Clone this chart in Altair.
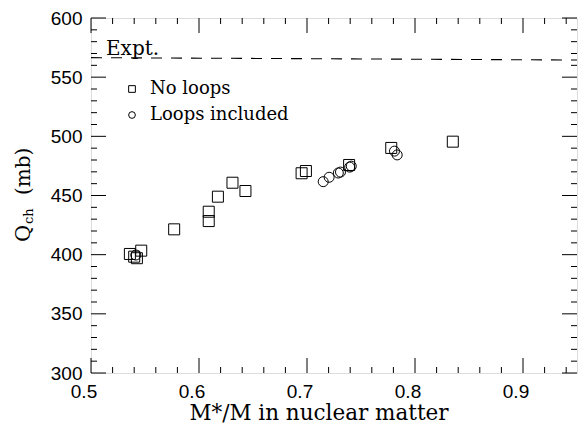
import altair as alt
import pandas as pd

# Q_ch versus effective mass M*/M in nuclear matter
no_loops_x = [0.536, 0.5465, 0.540, 0.5425, 0.577, 0.609, 0.609, 0.6175, 0.631,
              0.643, 0.695, 0.699, 0.739, 0.778, 0.835]
no_loops_y = [400.6, 403.4, 398.3, 397.0, 421.4, 436.3, 428.4, 449.0, 460.8,
              453.8, 468.8, 470.7, 475.8, 490.2, 495.5]

loops_x = [0.5415, 0.715, 0.7205, 0.729, 0.731, 0.7395, 0.741, 0.781, 0.7835]
loops_y = [399.7, 461.7, 465.4, 469.0, 469.8, 474.0, 474.8, 487.5, 484.3]

# experimental value (dashed line)
expt_x = [0.5, 0.95]
expt_y = [566.5, 564.5]

# axis ticks and labels
x_major = [0.5, 0.6, 0.7, 0.8, 0.9]
x_labels = ["0.5", "0.6", "0.7", "0.8", "0.9"]
x_minor = [0.52, 0.54, 0.56, 0.58, 0.62, 0.64, 0.66, 0.68, 0.72, 0.74, 0.76,
           0.78, 0.82, 0.84, 0.86, 0.88, 0.92, 0.94]
y_major = [300, 350, 400, 450, 500, 550, 600]
y_minor = [v for v in range(310, 600, 10) if v % 50 != 0]

W, H = 486, 355
MAJ, MIN = 15, 6
SERIF = "DejaVu Serif"
SANS = "Liberation Sans"

series_order = ["No loops", "Loops included"]

pts = pd.DataFrame(
    {"m": no_loops_x + loops_x,
     "q": no_loops_y + loops_y,
     "series": ["No loops"] * len(no_loops_x) + ["Loops included"] * len(loops_x)}
)
expt = pd.DataFrame({"m": expt_x, "q": expt_y})

xscale = alt.Scale(domain=[0.5, 0.95], nice=False, zero=False)
yscale = alt.Scale(domain=[300, 600], nice=False, zero=False)

y_axis = alt.Axis(values=y_major, format="d", ticks=False, domain=False, grid=False,
                  labelFont=SANS, labelFontSize=19, labelColor="black",
                  labelFlush=False, labelPadding=9, title=None)

shape_scale = alt.Scale(domain=series_order, range=["square", "circle"])
legend = alt.Legend(
    orient="none", legendX=32, legendY=62, title=None, padding=0,
    labelFont=SERIF, labelFontSize=18, labelColor="black", labelOffset=9,
    symbolSize=45, symbolStrokeColor="black", symbolFillColor="transparent",
    symbolStrokeWidth=1, rowPadding=8,
)

base = alt.Chart(pts)

squares = base.transform_filter(alt.datum.series == "No loops").mark_point(
    size=121, filled=False, stroke="black", strokeWidth=1, opacity=1
).encode(
    x=alt.X("m:Q", scale=xscale, axis=None),
    y=alt.Y("q:Q", scale=yscale, axis=y_axis),
    shape=alt.Shape("series:N", scale=shape_scale, sort=series_order, legend=legend),
)

circles = base.transform_filter(alt.datum.series == "Loops included").mark_point(
    size=100, filled=False, stroke="black", strokeWidth=1, opacity=1
).encode(
    x=alt.X("m:Q", scale=xscale),
    y=alt.Y("q:Q", scale=yscale),
    shape=alt.Shape("series:N", scale=shape_scale, sort=series_order, legend=legend),
)

expt_line = alt.Chart(expt).mark_line(
    color="black", strokeWidth=1.1, strokeDash=[11, 9]
).encode(x=alt.X("m:Q", scale=xscale), y=alt.Y("q:Q", scale=yscale))

# x tick labels, set a little left of their ticks
x_tick_labels = alt.Chart(pd.DataFrame({"v": x_major, "t": x_labels})).mark_text(
    font=SANS, fontSize=19, color="black", align="center", baseline="top", dx=-7
).encode(x=alt.X("v:Q", scale=xscale), y=alt.value(H + 10), text="t:N")


def xticks(vals, length):
    d = pd.DataFrame({"v": vals})
    bottom = alt.Chart(d).mark_rule(color="black", strokeWidth=1).encode(
        x=alt.X("v:Q", scale=xscale), y=alt.value(H), y2=alt.value(H - length))
    top = alt.Chart(d).mark_rule(color="black", strokeWidth=1).encode(
        x=alt.X("v:Q", scale=xscale), y=alt.value(0), y2=alt.value(length))
    return [bottom, top]


def yticks(vals, length):
    d = pd.DataFrame({"v": vals})
    left = alt.Chart(d).mark_rule(color="black", strokeWidth=1).encode(
        y=alt.Y("v:Q", scale=yscale), x=alt.value(0), x2=alt.value(length))
    right = alt.Chart(d).mark_rule(color="black", strokeWidth=1).encode(
        y=alt.Y("v:Q", scale=yscale), x=alt.value(W), x2=alt.value(W - length))
    return [left, right]


one = alt.Data(values=[{}])

expt_label = alt.Chart(one).mark_text(
    text="Expt.", font=SERIF, fontSize=20, align="left", baseline="alphabetic",
    color="black"
).encode(x=alt.value(15), y=alt.value(37))

x_title = alt.Chart(one).mark_text(
    text="M*/M in nuclear matter", font=SERIF, fontSize=21.5, align="center",
    baseline="alphabetic", color="black"
).encode(x=alt.value(228), y=alt.value(402))

y_q = alt.Chart(one).mark_text(
    text="Q", font=SERIF, fontSize=21, angle=270, align="left",
    baseline="alphabetic", color="black"
).encode(x=alt.value(-61), y=alt.value(224))
y_ch = alt.Chart(one).mark_text(
    text="ch", font=SERIF, fontSize=13, angle=270, align="left",
    baseline="alphabetic", color="black"
).encode(x=alt.value(-58), y=alt.value(206))
y_mb = alt.Chart(one).mark_text(
    text="(mb)", font=SERIF, fontSize=20, angle=270, align="left",
    baseline="alphabetic", color="black"
).encode(x=alt.value(-61), y=alt.value(177))

layers = (
    [squares, circles, expt_line, x_tick_labels]
    + xticks(x_major, MAJ) + xticks(x_minor, MIN)
    + yticks(y_major, MAJ) + yticks(y_minor, MIN)
    + [expt_label, x_title, y_q, y_ch, y_mb]
)

chart = alt.layer(*layers).properties(
    width=W, height=H,
    autosize=alt.AutoSizeParams(type="none"),
    padding={"left": 91, "top": 18, "right": 2, "bottom": 52},
).configure_view(
    stroke="black", strokeWidth=1.2
).configure(background="white")

chart.save("out.html", embed_options={"renderer": "svg", "actions": False})
